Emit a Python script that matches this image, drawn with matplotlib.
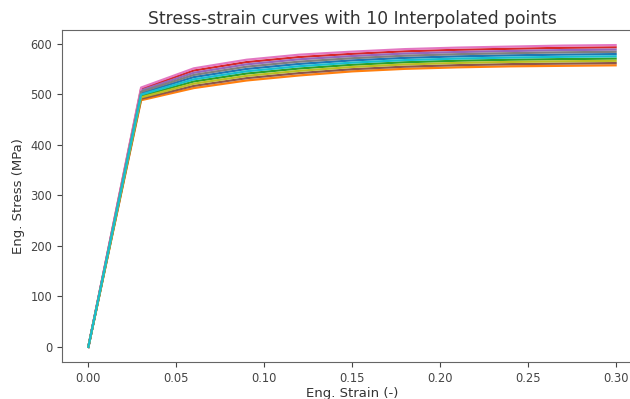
import matplotlib
matplotlib.use("Agg")
import matplotlib.pyplot as plt

plt.rcParams.update(plt.rcParamsDefault)
plt.rcParams["font.family"] = ["DejaVu Sans"]

strain = [0.0, 0.03, 0.06, 0.09, 0.12, 0.15, 0.18, 0.21, 0.24, 0.27, 0.30]

# curves listed in plotting order (colour cycle order C0..C9)
curve_0 = [0, 501.9, 533.7, 549.8, 559.8, 566.7, 571.7, 574.7, 576.7, 578.2, 579.2]
curve_1 = [0, 488.0, 512.0, 527.0, 537.0, 545.0, 550.0, 553.0, 555.0, 556.0, 557.0]
curve_2 = [0, 496.3, 525.0, 540.7, 550.7, 558.0, 563.0, 566.0, 568.0, 569.3, 570.3]
curve_3 = [0, 510.2, 546.7, 563.4, 573.4, 579.7, 584.7, 587.7, 589.7, 591.6, 592.6]
curve_4 = [0, 507.4, 542.3, 558.9, 568.9, 575.3, 580.3, 583.3, 585.3, 587.1, 588.1]
curve_5 = [0, 490.8, 516.3, 531.6, 541.6, 549.3, 554.3, 557.3, 559.3, 560.4, 561.4]
curve_6 = [0, 513.0, 551.0, 568.0, 578.0, 584.0, 589.0, 592.0, 594.0, 596.0, 597.0]
curve_7 = [0, 504.7, 538.0, 554.3, 564.3, 571.0, 576.0, 579.0, 581.0, 582.7, 583.7]
curve_8 = [0, 493.6, 520.7, 536.1, 546.1, 553.7, 558.7, 561.7, 563.7, 564.9, 565.9]
curve_9 = [0, 499.1, 529.3, 545.2, 555.2, 562.3, 567.3, 570.3, 572.3, 573.8, 574.8]

curves = [curve_0, curve_1, curve_2, curve_3, curve_4,
          curve_5, curve_6, curve_7, curve_8, curve_9]
colors = ["#1f77b4", "#ff7f0e", "#2ca02c", "#d62728", "#9467bd",
          "#8c564b", "#e377c2", "#7f7f7f", "#bcbd22", "#17becf"]

x_ticks = [0.00, 0.05, 0.10, 0.15, 0.20, 0.25, 0.30]
y_ticks = [0, 100, 200, 300, 400, 500, 600]

fig = plt.figure(figsize=(6.30, 3.99), dpi=100)
ax = fig.add_axes([62 / 630, 1 - 362 / 399, 580 / 630, 332 / 399])

for c, col in zip(curves, colors):
    ax.plot(strain, c, color=col, lw=1.6)

ax.set_xticks(x_ticks)
ax.set_xticklabels([f"{t:.2f}" for t in x_ticks])
ax.set_yticks(y_ticks)
ax.tick_params(labelsize=8.3, colors="#444444")
for s in ax.spines.values():
    s.set_color("#666666")
ax.set_xlabel("Eng. Strain (-)", fontsize=9.5, color="#333333", labelpad=2)
ax.set_ylabel("Eng. Stress (MPa)", fontsize=9.5, color="#333333")
ax.set_title("Stress-strain curves with 10 Interpolated points", fontsize=12.3,
             color="#333333", pad=4)

fig.savefig("out.png", dpi=100)
